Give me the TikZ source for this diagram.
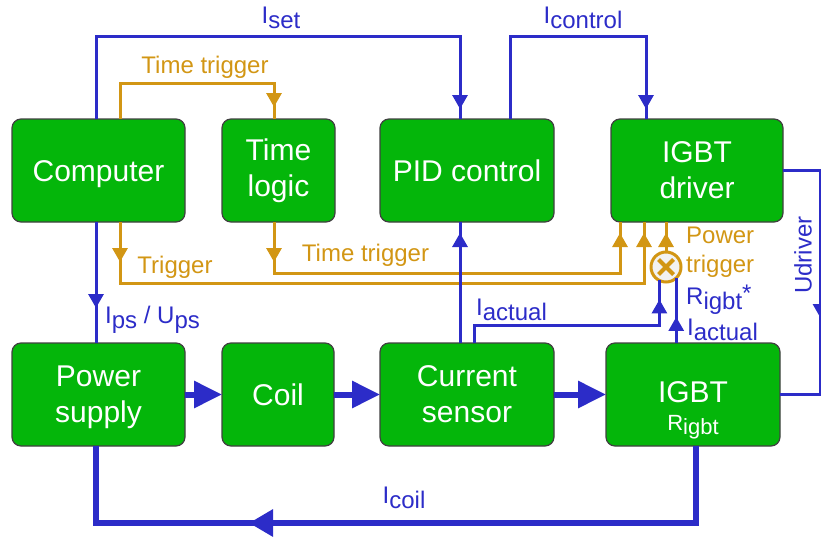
\documentclass[tikz,border=0pt]{standalone}
\usepackage{fontspec}
\setmainfont{Liberation Sans}
\usetikzlibrary{arrows.meta,decorations.markings,calc}
\definecolor{boxgreen}{RGB}{4,182,10}
\definecolor{flowblue}{RGB}{44,44,200}
\definecolor{trigorange}{RGB}{210,150,20}
\newcommand\subt[1]{\raisebox{-5pt}{#1}}
\tikzset{
  box/.style={draw=black!75, line width=1.2pt, fill=boxgreen, rounded corners=9pt,
    text=white, font=\fontsize{30}{36}\selectfont, align=center, inner sep=0pt, outer sep=0pt},
  bl/.style={color=flowblue, line width=3pt},
  ol/.style={color=trigorange, line width=3pt},
  mainflow/.style={color=flowblue, line width=6pt},
  tipat/.style={postaction={decorate,decoration={markings,
      mark=at position #1 with {\arrow{Triangle[length=14pt,width=15pt]}}}}},
  bigtipat/.style={postaction={decorate,decoration={markings,
      mark=at position #1 with {\arrow{Triangle[length=24pt,width=26pt]}}}}},
  bigtip/.style={-{Triangle[length=28pt,width=26pt]}},
  lbl/.style={font=\fontsize{24}{29}\selectfont, inner sep=0pt},
}
\begin{document}
\begin{tikzpicture}[x=1pt,y=-1pt]
\useasboundingbox (0,0) rectangle (821,538);

% boxes
\node[box, minimum width=173pt, minimum height=103pt, text height=21.5pt, text depth=0pt] (comp) at (98.5,170.5) {Computer};
\node[box, minimum width=113pt, minimum height=103pt] (tl) at (278.5,170.5) {Time\\logic};
\node[box, minimum width=174pt, minimum height=103pt, text height=21.5pt, text depth=0pt] (pid) at (467,170.5) {PID control};
\node[box, minimum width=172pt, minimum height=103pt] (drv) at (697,170.5) {IGBT\\driver};
\node[box, minimum width=173pt, minimum height=103pt, text depth=0pt] (ps) at (98.5,394.5) {Power\\supply};
\node[box, minimum width=112pt, minimum height=103pt] (coil) at (278,394.5) {Coil};
\node[box, minimum width=174pt, minimum height=103pt] (cs) at (467,394.5) {Current\\sensor};
\node[box, minimum width=174pt, minimum height=103pt] (igbt) at (693,394.5) {};
\node[text=white, font=\fontsize{30}{36}\selectfont, inner sep=0pt] (igbtt) at (693,392.5) {IGBT};
\node[text=white, font=\fontsize{22}{26}\selectfont, inner sep=0pt] (rig) at (693,427) {R\raisebox{-4pt}{igbt}};

% multiplier
\node[circle, draw=trigorange, line width=3pt, fill=black!5, minimum size=30pt,
      inner sep=0pt, outer sep=0pt] (mult) at (666,267) {};
\draw[trigorange, line width=4pt] ([shift={(-7.5,-7.5)}]mult.center) -- ([shift={(7.5,7.5)}]mult.center);
\draw[trigorange, line width=4pt] ([shift={(-7.5,7.5)}]mult.center) -- ([shift={(7.5,-7.5)}]mult.center);

% top connectors
\draw[bl, tipat=-10pt] ([xshift=-2.5pt]comp.north) -- ++(0,-83) -| ([xshift=-7pt]pid.north);
\draw[bl, tipat=-10pt] ([xshift=43pt]pid.north) -- ++(0,-83) -| ([xshift=-51pt]drv.north);
\draw[ol, tipat=-12pt] ([xshift=21.5pt]comp.north) -- ++(0,-36) -| ([xshift=-4.5pt]tl.north);

% middle connectors
\draw[ol, tipat=40pt, tipat=-11pt] ([xshift=21.5pt]comp.south) -- ++(0,61) -| ([xshift=-53pt]drv.south);
\draw[ol, tipat=40pt, tipat=-11pt] ([xshift=-4.5pt]tl.south) -- ++(0,51) -| ([xshift=-77pt]drv.south);
\draw[ol, tipat=-11pt] (mult.north) -- (mult.north |- drv.south);
\draw[bl, tipat=-35pt] ([xshift=-2.5pt]comp.south) -- ([xshift=-2.5pt]ps.north);
\draw[bl, tipat=-11pt] ([xshift=-7pt]cs.north) -- ([xshift=-7pt]pid.south);
\draw[bl, tipat=-19pt] ([xshift=7pt]cs.north) -- ++(0,-18) -| (mult.-116);
\draw[bl, tipat=-39pt] (igbt.north -| mult.-47) -- (mult.-47);
\draw[bl, tipat=185pt] (drv.east) -- ++(37.5,0) |- (igbt.east);

% main flow
\draw[mainflow, bigtip] (ps.east) -- (coil.west);
\draw[mainflow, bigtip] (coil.east) -- (cs.west);
\draw[mainflow, bigtip] (cs.east) -- (igbt.west);
\draw[mainflow, bigtipat=524pt] ([xshift=3pt]igbt.south) -- ++(0,77) -| ([xshift=-2.5pt]ps.south);

% labels
\node[lbl, text=flowblue] (lset) at (281,18) {I\subt{set}};
\node[lbl, text=flowblue] (lctl) at (583,18) {I\subt{control}};
\node[lbl, text=trigorange] (ltt1) at (205,67) {Time trigger};
\node[lbl, text=trigorange] (ltr) at (175,267) {Trigger};
\node[lbl, text=trigorange] (ltt2) at (365.5,255) {Time trigger};
\node[lbl, text=flowblue] (lps) at (152.5,320) {I\subt{ps} / U\subt{ps}};
\node[lbl, text=flowblue] (lact1) at (511.5,310) {I\subt{actual}};
\node[lbl, text=trigorange, align=left, anchor=west] (lpt) at (686,252) {Power\\trigger};
\node[lbl, text=flowblue, anchor=west] (lrig) at (686,300) {R\subt{igbt}\raisebox{3pt}{*}};
\node[lbl, text=flowblue, anchor=west] (lact2) at (687,330) {I\subt{actual}};
\node[lbl, text=flowblue, rotate=90] (lud) at (803,255) {Udriver};
\node[lbl, text=flowblue] (lcoil) at (404,498) {I\subt{coil}};
\end{tikzpicture}
\end{document}
